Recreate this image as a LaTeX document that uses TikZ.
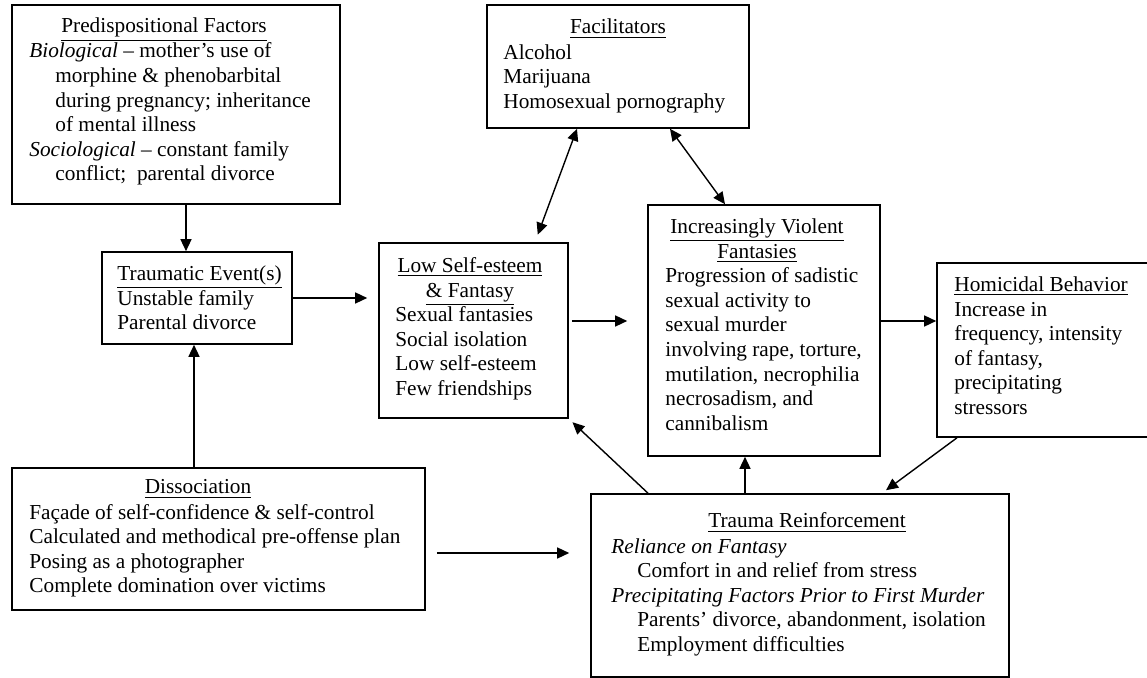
\documentclass[tikz,border=0pt]{standalone}
\usepackage{fontspec}
\setmainfont{Liberation Serif}
\usetikzlibrary{arrows.meta,fit}

\tikzset{
  box/.style={draw, line width=0.8pt, inner sep=0pt},
  head/.style={anchor=base, inner sep=0pt},
  body/.style={anchor=north west, align=left, inner sep=0pt},
  arr/.style={line width=0.7pt, -{Triangle[length=6pt,width=5.5pt]}},
  darr/.style={line width=0.7pt, {Triangle[length=6pt,width=5.5pt]}-{Triangle[length=6pt,width=5.5pt]}},
}

\begin{document}
\begin{tikzpicture}[x=0.5pt, y=-0.5pt, font=\fontsize{10.65}{12.3}\selectfont]
    \useasboundingbox (0,0) rectangle (1147,678);

    % boxes
    \node (predisp) [box, fit={(12,5) (340,204)}] {};
    \node (facil)   [box, fit={(487,5) (749,128)}] {};
    \node (trauev)  [box, fit={(102,252) (292,344)}] {};
    \node (lowself) [box, fit={(379,243) (568,418)}] {};
    \node (violent) [box, fit={(648,205) (880,456)}] {};
    \node (homicid) [box, fit={(937,263) (1150,437)}] {};
    \node (dissoc)  [box, fit={(12,468) (425,610)}] {};
    \node (trauma)  [box, fit={(591,494) (1009,677)}] {};

    % texts
    \node (predisp-h) at (164,33) [head] {\underline{Predispositional Factors}};
    \node (predisp-t) at (29,40.3) [body] {\strut\textit{Biological} -- mother's use of\\
        \hspace*{13pt}morphine \& phenobarbital\\
        \hspace*{13pt}during pregnancy; inheritance\\
        \hspace*{13pt}of mental illness\\
        \textit{Sociological} -- constant family\\
        \hspace*{13pt}conflict;\ \ parental divorce};

    \node (facil-h) at (618,34) [head] {\underline{Facilitators}};
    \node (facil-t) at (503,41.4) [body] {\strut Alcohol\\ Marijuana\\ Homosexual pornography};

    \node (trauev-t) at (117,262.8) [body] {\strut\underline{Traumatic Event(s)}\\ Unstable family\\ Parental divorce};

    \node (lowself-h) at (470,254.8) [anchor=north, align=center, inner sep=0pt] {\strut\underline{Low Self-esteem}\\ \underline{\& Fantasy}};
    \node (lowself-t) at (395,304) [body] {\strut Sexual fantasies\\ Social isolation\\ Low self-esteem\\ Few friendships};

    \node (violent-h) at (757,215.8) [anchor=north, align=center, inner sep=0pt] {\strut\underline{Increasingly Violent}\\ \underline{Fantasies}};
    \node (violent-t) at (665,265) [body] {\strut Progression of sadistic\\ sexual activity to\\ sexual murder\\
        involving rape, torture,\\ mutilation, necrophilia\\ necrosadism, and\\ cannibalism};

    \node (homicid-t) at (954,273.8) [body] {\strut\underline{Homicidal Behavior}\\ Increase in\\ frequency, intensity\\
        of fantasy,\\ precipitating\\ stressors};

    \node (dissoc-h) at (198,494) [head] {\underline{Dissociation}};
    \node (dissoc-t) at (29,501.4) [body] {\strut Façade of self-confidence \& self-control\\
        Calculated and methodical pre-offense plan\\ Posing as a photographer\\ Complete domination over victims};

    \node (trauma-h) at (807,528) [head] {\underline{Trauma Reinforcement}};
    \node (trauma-t) at (611,535.4) [body] {\strut\textit{Reliance on Fantasy}\\
        \hspace*{13pt}Comfort in and relief from stress\\
        \textit{Precipitating Factors Prior to First Murder}\\
        \hspace*{13pt}Parents' divorce, abandonment, isolation\\
        \hspace*{13pt}Employment difficulties};

    % arrows
    \draw [arr] (predisp.south -| 186,0) -- (trauev.north -| 186,0);
    \draw [arr] (dissoc.north -| 194,0) -- (trauev.south -| 194,0);
    \draw [arr, shorten >=5.5pt] (trauev.east) -- (lowself.west |- trauev.east);
    \draw [arr, shorten <=1.5pt, shorten >=10pt] (lowself.east |- 0,321) -- (violent.west |- 0,321);
    \draw [arr] (violent.east |- 0,321) -- (homicid.west |- 0,321);
    \draw [arr, shorten <=5.5pt, shorten >=10.5pt] (dissoc.east |- 0,553) -- (trauma.west |- 0,553);
    \draw [arr] (trauma.north -| 745,0) -- (violent.south -| 745,0);
    \draw [arr, shorten >=2.5pt] (trauma.north -| 648,0) -- (lowself.south east);
    \draw [arr, shorten >=2.5pt] (homicid.south -| 957,0) -- (trauma.north -| 882,0);
    \draw [darr, shorten >=4pt] (facil.south -| 577,0) -- (lowself.north -| 535,0);
    \draw [darr] (facil.south -| 670,0) -- (violent.north -| 725,0);
\end{tikzpicture}
\end{document}
